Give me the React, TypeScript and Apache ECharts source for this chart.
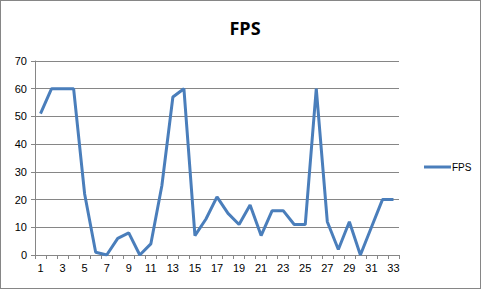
import React, { useEffect, useRef } from "react";
import * as echarts from "echarts";

const categories = Array.from({ length: 33 }, (_, i) => String(i + 1));
const fpsValues = [51, 60, 60, 60, 22, 1, 0, 6, 8, 0, 4, 25, 57, 60, 7, 13, 21, 15, 11, 18, 7, 16, 16, 11, 11, 60, 12, 2, 12, 0, 10, 20, 20];
const seriesName = "FPS";
const titleText = "FPS";

export default function App() {
  const ref = useRef<HTMLDivElement>(null);
  useEffect(() => {
    if (!ref.current) return;
    const chart = echarts.init(ref.current, undefined, { renderer: "svg" });
    const font = "Liberation Sans";
    chart.setOption({
      animation: false,
      backgroundColor: "#ffffff",
      title: {
        text: titleText,
        left: 240,
        textAlign: "center",
        top: 14,
        textStyle: { fontFamily: "Open Sans", fontWeight: "bold", fontSize: 18, color: "#000" },
      },
      legend: {
        data: [{ name: seriesName, icon: "rect" }],
        left: 419,
        top: 157,
        itemWidth: 27,
        itemHeight: 3,
        itemGap: 2,
        textStyle: { fontFamily: font, fontSize: 10, color: "#000", padding: [0, 0, 0, -4] },
      },
      grid: { left: 35, top: 61, width: 364, height: 194, containLabel: false },
      xAxis: {
        type: "category",
        data: categories,
        boundaryGap: true,
        axisLine: { lineStyle: { color: "#868686", width: 1 } },
        axisTick: { show: true, length: 4, interval: 0, lineStyle: { color: "#868686" } },
        axisLabel: { interval: 1, fontFamily: font, fontSize: 11, color: "#000", margin: 7 },
      },
      yAxis: {
        type: "value",
        min: 0,
        max: 70,
        interval: 10,
        axisLine: { show: true, lineStyle: { color: "#868686", width: 1 } },
        axisTick: { show: true, length: 4, lineStyle: { color: "#868686" } },
        axisLabel: { fontFamily: font, fontSize: 11, color: "#000", margin: 8 },
        splitLine: { lineStyle: { color: "#868686", width: 1 } },
      },
      series: [
        {
          name: seriesName,
          type: "line",
          data: fpsValues,
          symbol: "none",
          lineStyle: { color: "#4A7EBB", width: 3 },
          itemStyle: { color: "#4A7EBB" },
        },
      ],
    });
    return () => chart.dispose();
  }, []);
  return (
    <div style={{ position: "fixed", left: 0, top: 0, width: 481, height: 289, background: "#fff" }}>
      <div ref={ref} style={{ position: "absolute", left: 0, top: 0, width: 481, height: 289 }} />
      <div
        style={{
          position: "absolute",
          left: 0,
          top: 0,
          width: 481,
          height: 289,
          boxSizing: "border-box",
          border: "1px solid #868686",
          pointerEvents: "none",
        }}
      />
    </div>
  );
}
